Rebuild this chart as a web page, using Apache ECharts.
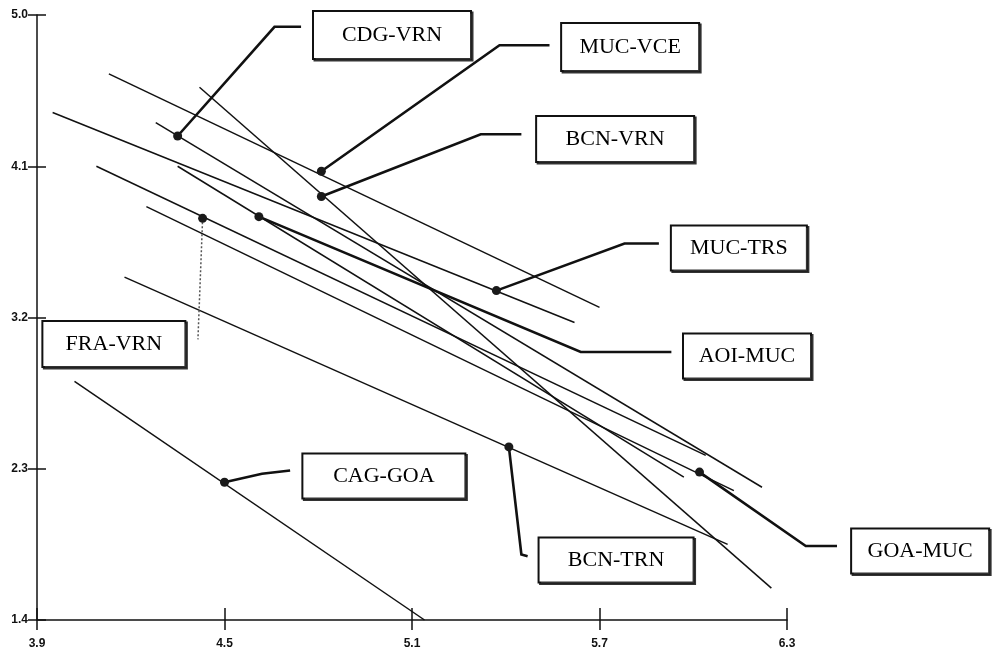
<!DOCTYPE html>
<html><head><meta charset="utf-8">
<script src="https://cdn.jsdelivr.net/npm/echarts@6/dist/echarts.min.js"></script>
<style>html,body{margin:0;padding:0;background:#fff}#c{width:998px;height:652px}</style>
</head><body><div id="c"></div>
<script>
// ---- data ----
const xTicks = [3.9, 4.5, 5.1, 5.7, 6.3];
const yTicks = [1.4, 2.3, 3.2, 4.1, 5.0];
const routes = ['CDG-VRN','MUC-VCE','BCN-VRN','MUC-TRS','AOI-MUC','FRA-VRN','CAG-GOA','BCN-TRN','GOA-MUC'];
const lineStartX = [4.28, 4.13, 4.42, 3.95, 4.35, 4.09, 4.02, 4.18, 4.25];
const lineStartY = [4.36, 4.65, 4.57, 4.42, 4.10, 4.10, 2.82, 3.44, 3.86];
const lineEndX   = [6.22, 5.70, 6.25, 5.62, 5.97, 6.04, 5.14, 6.11, 6.13];
const lineEndY   = [2.19, 3.26, 1.59, 3.17, 2.25, 2.38, 1.40, 1.85, 2.17];
const pointX     = [4.35, 4.81, 4.81, 5.37, 4.61, 4.43, 4.50, 5.41, 6.02];
const pointY     = [4.28, 4.07, 3.92, 3.36, 3.80, 3.79, 2.22, 2.43, 2.28];

// ---- annotation layout (data coordinates of leader bends / ends and label box centres) ----
const leaderPath = [
  [[4.66, 4.93], [4.745, 4.93]],
  [[5.38, 4.82], [5.54, 4.82]],
  [[5.32, 4.29], [5.45, 4.29]],
  [[5.78, 3.64], [5.89, 3.64]],
  [[5.64, 2.995], [5.93, 2.995]],
  [[4.415, 3.07]],
  [[4.62, 2.27], [4.71, 2.29]],
  [[5.45, 1.79], [5.47, 1.78]],
  [[6.36, 1.84], [6.46, 1.84]]
];
const boxCenter = [[5.036,4.881],[5.798,4.81],[5.75,4.262],[6.146,3.614],[6.172,2.971],[4.146,3.042],[5.01,2.257],[5.753,1.757],[6.726,1.811]];
const boxSize = [[160,50],[140,50],[160,48],[138,47],[130,47],[145,48],[165,47],[157,47],[140,47]];

const chart = echarts.init(document.getElementById('c'), null, {renderer:'canvas'});
const series = [];
routes.forEach((r, i) => {
  series.push({
    type:'line', name:r, xAxisIndex:0, yAxisIndex:0, silent:true, symbol:'none', clip:false, z:2,
    lineStyle:{color:'#111', width:1.5},
    data:[[lineStartX[i], lineStartY[i]], [lineEndX[i], lineEndY[i]]]
  });
});
series.push({
  type:'custom', name:'leaders', silent:true, clip:false, z:3,
  encode:{x:0, y:1},
  data: routes.map((r,i)=>[pointX[i], pointY[i], i]),
  renderItem:(params, api)=>{
    const i = api.value(2);
    const pts = [[pointX[i], pointY[i]]].concat(leaderPath[i]).map(p=>api.coord(p));
    const isFra = routes[i] === 'FRA-VRN';
    return {
      type:'polyline', shape:{points:pts},
      style: isFra ? {stroke:'#555', lineWidth:1.5, lineDash:[2,2], fill:null}
                   : {stroke:'#111', lineWidth:2.6, fill:null, lineJoin:'miter'}
    };
  }
});
series.push({
  type:'scatter', name:'points', silent:true, clip:false, z:5, symbolSize:9,
  itemStyle:{color:'#1a1a1a', opacity:1},
  data: routes.map((r,i)=>[pointX[i], pointY[i]])
});
series.push({
  type:'scatter', name:'labels', silent:true, clip:false, z:6, symbolSize:0,
  itemStyle:{color:'#fff', opacity:1},
  data: routes.map((r,i)=>({
    name:r, value:boxCenter[i],
    label:{width:boxSize[i][0]-4, height:boxSize[i][1]-4, lineHeight:boxSize[i][1]-4}
  })),
  label:{
    show:true, position:'inside', formatter:p=>p.name,
    color:'#000', fontFamily:"'Liberation Serif','Times New Roman',serif", fontSize:22,
    align:'center', verticalAlign:'middle', padding:0,
    backgroundColor:'#fff', borderColor:'#111', borderWidth:2,
    shadowColor:'#333', shadowBlur:0, shadowOffsetX:1.5, shadowOffsetY:1.5
  }
});

const tickFont = {color:'#111', fontFamily:"'Liberation Sans Narrow','Arial Narrow','Liberation Sans',sans-serif", fontSize:12, fontWeight:'bold'};
chart.setOption({
  animation:false,
  backgroundColor:'#fff',
  grid:{left:37, right:211, top:15, bottom:32, containLabel:false},
  xAxis:[
    {type:'value', min:3.9, max:6.3, splitLine:{show:false},
     axisLine:{show:true, lineStyle:{color:'#111', width:1.5}},
     axisTick:{show:true, inside:false, length:10, customValues:xTicks, lineStyle:{color:'#111', width:1.5}},
     axisLabel:Object.assign({show:true, margin:18, customValues:xTicks, formatter:v=>Number(v).toFixed(1)}, tickFont)},
    {type:'value', min:3.9, max:6.3, position:'bottom', splitLine:{show:false},
     axisLine:{show:false},
     axisTick:{show:true, inside:true, length:12, customValues:xTicks, lineStyle:{color:'#111', width:1.5}},
     axisLabel:{show:false}}
  ],
  yAxis:[
    {type:'value', min:1.4, max:5.0, splitLine:{show:false},
     axisLine:{show:true, lineStyle:{color:'#111', width:1.5}},
     axisTick:{show:true, inside:false, length:9, customValues:yTicks, lineStyle:{color:'#111', width:1.5}},
     axisLabel:Object.assign({show:true, margin:9, customValues:yTicks, formatter:v=>Number(v).toFixed(1)}, tickFont)},
    {type:'value', min:1.4, max:5.0, position:'left', splitLine:{show:false},
     axisLine:{show:false},
     axisTick:{show:true, inside:true, length:9, customValues:yTicks, lineStyle:{color:'#111', width:1.5}},
     axisLabel:{show:false}}
  ],
  series: series
});
</script></body></html>
